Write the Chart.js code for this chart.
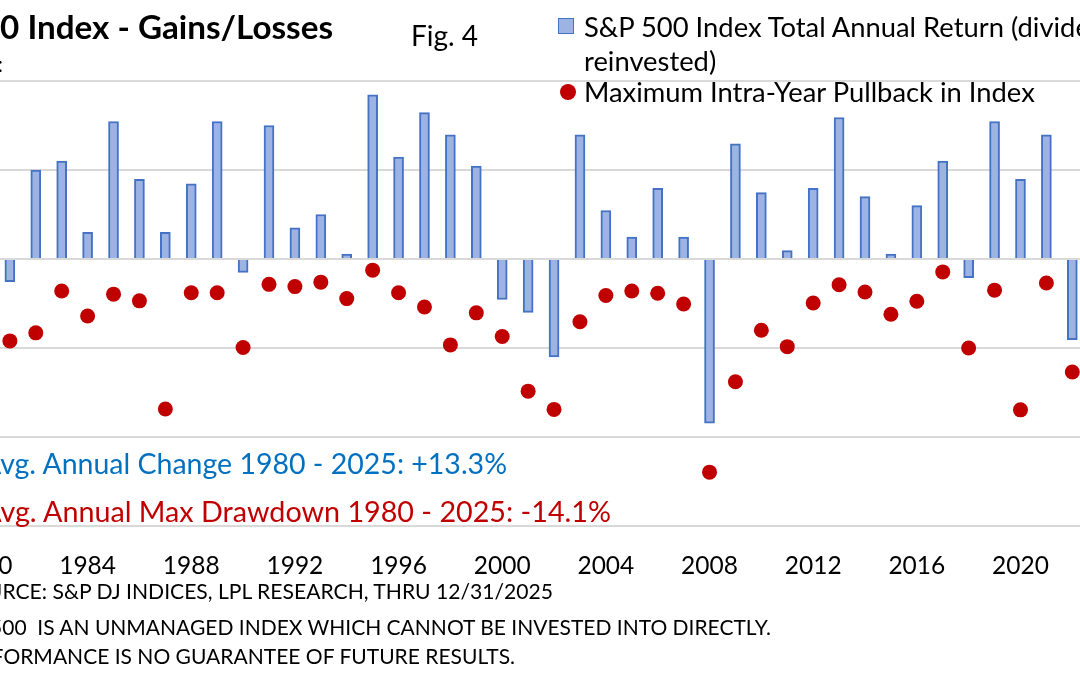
<!DOCTYPE html>
<html>
<head>
<meta charset="utf-8">
<script src="https://cdn.jsdelivr.net/npm/chart.js@4.4.1/dist/chart.umd.min.js"></script>
<style>
  html, body { margin: 0; padding: 0; width: 1080px; height: 675px; overflow: hidden; background: #fff; }
  body { position: relative; font-family: Lato, "Noto Sans", sans-serif; color: #000; }
  #wrap { position: absolute; left: -100px; top: 0; width: 1300px; height: 675px; }
  .t { position: absolute; white-space: nowrap; line-height: 1; }
  .r { transform: translate(-100%, -50%); }
  .l { transform: translate(0, -50%); }
  .t span { font-size: inherit; }
  #legend { position: absolute; left: 584px; top: 0; font-size: 25px; line-height: 1; white-space: nowrap; }
  #legend div { position: absolute; left: 0; transform: translate(0, -50%); }
  .sq { position: absolute; left: 558px; top: 18px; width: 14px; height: 14px; background: #9DB3E3; border: 1.5px solid #4472C4; }
  .dot { position: absolute; left: 560px; top: 84px; width: 16px; height: 16px; border-radius: 50%; background: #C00000; }
</style>
</head>
<body>
<div id="wrap"><canvas id="chart"></canvas></div>

<div class="t r" style="left:333px;top:27px;font-size:29px;font-weight:bold" data-w="333"><span>S&amp;P 50</span><span class="v">0 Index - Gains/Losses</span></div>
<div class="t r" style="left:3px;top:64px;font-size:22px">:</div>
<div class="t l" style="left:411px;top:36px;font-size:27px" data-w="67"><span class="v">Fig. 4</span></div>

<div class="sq"></div>
<div class="dot"></div>
<div id="legend" data-w="451">
  <div style="top:27px">S&amp;P 500 Index Total Annual Return (dividends</div>
  <div style="top:61px">reinvested)</div>
  <div style="top:92px"><span class="v">Maximum Intra-Year Pullback in Index</span></div>
</div>

<div class="t r" style="left:507px;top:463px;font-size:25px;color:#0070C0" data-w="507"><span>A</span><span class="v">vg. Annual Change 1980 - 2025: +13.3%</span></div>
<div class="t r" style="left:611px;top:511px;font-size:27px;color:#C00000" data-w="611"><span>A</span><span class="v">vg. Annual Max Drawdown 1980 - 2025: -14.1%</span></div>

<div class="t r" style="left:553px;top:591px;font-size:21px" data-w="551"><span>SOU</span><span class="v">RCE: S&amp;P DJ INDICES, LPL RESEARCH, THRU 12/31/2025</span></div>
<div class="t r" style="left:771px;top:626px;font-size:21px" data-w="769"><span>S&amp;P 5</span><span class="v">00&nbsp; IS AN UNMANAGED INDEX WHICH CANNOT BE INVESTED INTO DIRECTLY.</span></div>
<div class="t r" style="left:515px;top:656px;font-size:21px" data-w="512"><span>PAST PERF</span><span class="v">ORMANCE IS NO GUARANTEE OF FUTURE RESULTS.</span></div>

<script>
const years = [1980, 1981, 1982, 1983, 1984, 1985, 1986, 1987, 1988, 1989,
               1990, 1991, 1992, 1993, 1994, 1995, 1996, 1997, 1998, 1999,
               2000, 2001, 2002, 2003, 2004, 2005, 2006, 2007, 2008, 2009,
               2010, 2011, 2012, 2013, 2014, 2015, 2016, 2017, 2018, 2019,
               2020, 2021, 2022, 2023, 2024, 2025];

// S&P 500 total annual return, %
const annualReturn = [32.4, -5.1, 20.0, 22.0, 6.0, 30.9, 17.9, 6.0, 16.9, 30.9,
                      -3.0, 30.0, 7.0, 10.0, 1.1, 36.9, 22.9, 32.9, 27.9, 20.9,
                      -9.1, -12.0, -22.0, 27.9, 10.9, 4.9, 15.9, 4.9, -36.9, 25.9,
                      14.9, 1.9, 15.9, 31.8, 14.0, 1.1, 12.0, 22.0, -4.2, 30.9,
                      17.9, 27.9, -18.1, 26.3, 25.0, 17.9];

// maximum intra-year pullback, %
const maxPullback = [-17.1, -18.4, -16.6, -7.2, -12.8, -7.9, -9.4, -33.7, -7.6, -7.6,
                     -19.9, -5.7, -6.2, -5.2, -8.9, -2.5, -7.6, -10.8, -19.3, -12.1,
                     -17.4, -29.7, -33.8, -14.1, -8.2, -7.2, -7.7, -10.1, -47.9, -27.6,
                     -16.0, -19.7, -9.9, -5.8, -7.4, -12.4, -9.5, -2.9, -20.0, -7.0,
                     -33.9, -5.4, -25.4, -10.3, -8.5, -18.9];

const tickYears = [1980, 1984, 1988, 1992, 1996, 2000, 2004, 2008, 2012, 2016, 2020, 2024];
const yTicks = [-60, -40, -20, 0, 20, 40];

const FONT = 'Lato, "Noto Sans", sans-serif';

function fitText(el) {
    const part = el.querySelector('.v') || el;
    const size = parseFloat(getComputedStyle(el).fontSize);
    const w = part.getBoundingClientRect().width;
    el.style.fontSize = (size * (+el.dataset.w) / w) + 'px';
}
document.querySelectorAll('[data-w]').forEach(fitText);

new Chart(document.getElementById('chart'), {
    type: 'bar',
    data: {
        labels: years,
        datasets: [
            {
                type: 'line',
                label: 'Maximum Intra-Year Pullback in Index',
                data: maxPullback,
                showLine: false,
                pointRadius: 7.5,
                pointHoverRadius: 7.5,
                pointBackgroundColor: '#C00000',
                pointBorderWidth: 0,
                order: 0
            },
            {
                label: 'S&P 500 Index Total Annual Return (dividends reinvested)',
                data: annualReturn,
                backgroundColor: '#9DB3E3',
                borderColor: '#4472C4',
                borderWidth: 2,
                barThickness: 10,
                order: 1
            }
        ]
    },
    options: {
        responsive: true,
        maintainAspectRatio: false,
        animation: false,
        layout: { padding: { left: 71, right: 37, top: 81, bottom: 0 } },
        plugins: {
            legend: { display: false },
            tooltip: { enabled: false }
        },
        scales: {
            x: {
                offset: true,
                grid: { display: false, drawTicks: false },
                border: { display: false },
                ticks: {
                    autoSkip: false,
                    maxRotation: 0,
                    padding: 25,
                    color: '#000',
                    font: { family: FONT, size: 24.5 },
                    callback: (value, index) => tickYears.includes(years[index]) ? String(years[index]) : ''
                },
                afterFit: (scale) => { scale.height = 149; }
            },
            y: {
                min: -60,
                max: 40,
                afterBuildTicks: (scale) => { scale.ticks = yTicks.map(v => ({ value: v })); },
                ticks: { display: false },
                grid: { color: '#D9D9D9', lineWidth: 2, drawTicks: false },
                border: { display: false },
                afterFit: (scale) => { scale.width = 0; }
            }
        }
    }
});
</script>
</body>
</html>
